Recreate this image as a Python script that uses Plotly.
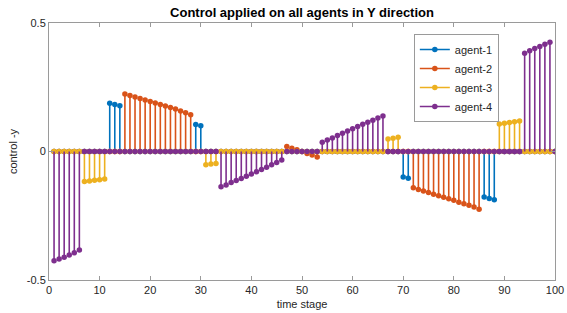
import plotly.graph_objects as go

# time stages 1..100
time_stage = list(range(1, 101))

# Nonzero runs: {first time stage: [values...]}; all other stages are 0
agent1_runs = {12: [0.188, 0.183, 0.178],
               29: [0.105, 0.100],
               70: [-0.099, -0.104],
               86: [-0.177, -0.183, -0.188]}
agent2_runs = {15: [0.224, 0.218, 0.212, 0.206, 0.200, 0.195, 0.189, 0.183, 0.177, 0.171, 0.165, 0.158, 0.151, 0.143],
               47: [0.019, 0.013, 0.007, 0.0, -0.008, -0.014, -0.021],
               72: [-0.141, -0.148, -0.154, -0.160, -0.166, -0.172, -0.178, -0.184, -0.190, -0.197, -0.203, -0.209, -0.216, -0.225]}
agent3_runs = {7: [-0.117, -0.115, -0.112, -0.110, -0.107],
               31: [-0.052, -0.049, -0.047],
               67: [0.049, 0.052, 0.055],
               89: [0.107, 0.110, 0.113, 0.116, 0.119]}
agent4_runs = {1: [-0.425, -0.418, -0.411, -0.403, -0.394, -0.383],
               34: [-0.137, -0.130, -0.121, -0.113, -0.105, -0.096, -0.088, -0.079, -0.070, -0.061, -0.052, -0.043, -0.033],
               54: [0.036, 0.045, 0.053, 0.062, 0.071, 0.080, 0.089, 0.097, 0.106, 0.114, 0.122, 0.130, 0.138],
               94: [0.382, 0.392, 0.401, 0.409, 0.417, 0.425]}

agent_names = ["agent-1", "agent-2", "agent-3", "agent-4"]
agent_colors = ["#0072BD", "#D95319", "#EDB120", "#7E2F8E"]

x_ticks = [0, 10, 20, 30, 40, 50, 60, 70, 80, 90, 100]
y_ticks = [-0.5, 0, 0.5]
y_tick_labels = ["-0.5", "0", "0.5"]


def expand(runs):
    vals = [0.0] * len(time_stage)
    for start, seg in runs.items():
        for i, v in enumerate(seg):
            vals[start - 1 + i] = v
    return vals


series = [expand(r) for r in (agent1_runs, agent2_runs, agent3_runs, agent4_runs)]

fig = go.Figure()

# baseline
fig.add_trace(go.Scatter(x=[0, 100], y=[0, 0], mode="lines",
                         line=dict(color="#3a3a3a", width=1),
                         showlegend=False, hoverinfo="skip"))

for name, color, vals in zip(agent_names, agent_colors, series):
    sx, sy = [], []
    for t, v in zip(time_stage, vals):
        if v != 0:
            sx += [t, t, None]
            sy += [0, v, None]
    fig.add_trace(go.Scatter(x=sx, y=sy, mode="lines",
                             line=dict(color=color, width=1.6),
                             showlegend=False, legendgroup=name, hoverinfo="skip"))
    fig.add_trace(go.Scatter(x=time_stage, y=vals, mode="markers",
                             marker=dict(color=color, size=5.5),
                             showlegend=False, legendgroup=name, name=name))
    # legend entry
    fig.add_trace(go.Scatter(x=[None], y=[None], mode="lines+markers", name=name,
                             line=dict(color=color, width=1.6),
                             marker=dict(color=color, size=5.5),
                             legendgroup=name))

axis_common = dict(showline=True, linecolor="#9a9a9a", linewidth=1, mirror="ticks",
                   ticks="inside", ticklen=4, tickcolor="#9a9a9a",
                   showgrid=False, zeroline=False, automargin=False,
                   tickfont=dict(family="Liberation Sans, Arial", size=11, color="#262626"))

fig.update_layout(
    width=567, height=313,
    margin=dict(l=49, r=12, t=23, b=33),
    paper_bgcolor="white", plot_bgcolor="white",
    font=dict(family="Liberation Sans, Arial", size=11, color="#262626"),
    title=dict(text="<b>Control applied on all agents in Y direction</b>",
               x=(49 + 555) / 2 / 567, xanchor="center",
               y=1 - 12 / 313, yanchor="middle", yref="container",
               font=dict(family="Liberation Sans, Arial", size=13, color="black")),
    xaxis=dict(range=[0, 100], tickvals=x_ticks,
               title=dict(text="time stage", standoff=5,
                          font=dict(family="Liberation Sans, Arial", size=11, color="#262626")),
               **axis_common),
    yaxis=dict(range=[-0.5, 0.5], tickvals=y_ticks, ticktext=y_tick_labels,
               title=dict(text="control -y", standoff=6,
                          font=dict(family="Liberation Sans, Arial", size=11, color="#262626")),
               **axis_common),
    legend=dict(x=0.889, y=0.957, xanchor="right", yanchor="top",
                bgcolor="white", bordercolor="#9a9a9a", borderwidth=1,
                font=dict(family="Liberation Sans, Arial", size=11, color="#262626"),
                itemwidth=30, tracegroupgap=0),
)

fig.write_html("out.html", config={"displayModeBar": False},
               post_script="document.body.style.margin='0';document.body.style.overflow='hidden';")
